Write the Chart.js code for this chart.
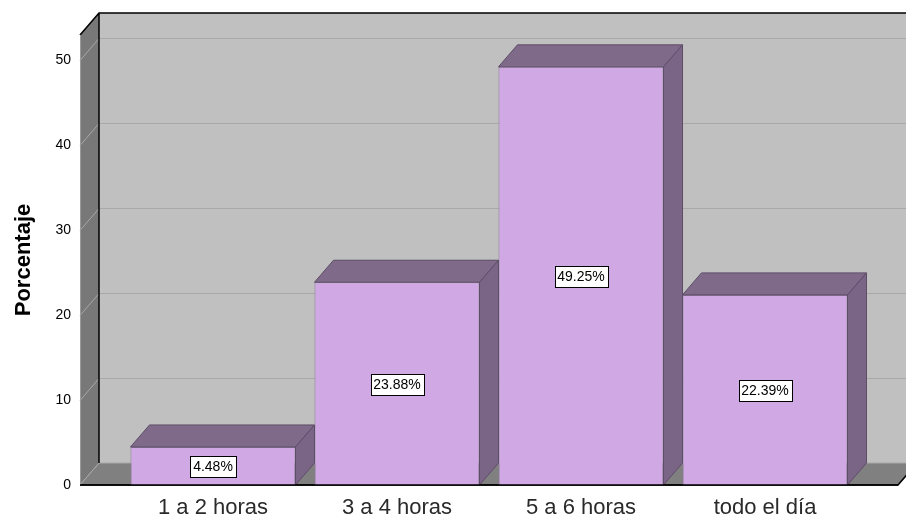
<!DOCTYPE html>
<html>
<head>
<meta charset="utf-8">
<script src="https://cdn.jsdelivr.net/npm/chart.js@4"></script>
<style>
  html, body { margin: 0; padding: 0; background: #ffffff; }
  #wrap { width: 906px; height: 518px; }
</style>
</head>
<body>
<div id="wrap"><canvas id="chart" width="906" height="518"></canvas></div>
<script>
// Chart data
const categories = ['1 a 2 horas', '3 a 4 horas', '5 a 6 horas', 'todo el día'];
const percentages = [4.48, 23.88, 49.25, 22.39];
const percentLabels = ['4.48%', '23.88%', '49.25%', '22.39%'];
const yTicks = [0, 10, 20, 30, 40, 50];

// 3D look
const DEPTH_X = 19;
const DEPTH_Y = -22;
const BOX_PAD = 41;
const FONT = 'Arial, "Liberation Sans", sans-serif';

const threeDPlugin = {
  id: 'threeD',
  beforeDatasetsDraw(chart) {
    const ctx = chart.ctx;
    const y = chart.scales.y;
    const area = chart.chartArea;
    const x0 = area.left - BOX_PAD;
    const x1 = area.right + BOX_PAD;
    const yBot = y.getPixelForValue(0);
    const yTop = area.top;

    ctx.save();
    // back wall
    ctx.fillStyle = '#c0c0c0';
    ctx.fillRect(x0 + DEPTH_X, yTop + DEPTH_Y, x1 - x0, yBot - yTop);
    // left wall
    ctx.fillStyle = '#787878';
    ctx.beginPath();
    ctx.moveTo(x0, yBot);
    ctx.lineTo(x0, yTop);
    ctx.lineTo(x0 + DEPTH_X, yTop + DEPTH_Y);
    ctx.lineTo(x0 + DEPTH_X, yBot + DEPTH_Y);
    ctx.closePath();
    ctx.fill();
    // grid lines
    ctx.strokeStyle = '#a8a8a8';
    ctx.lineWidth = 1;
    yTicks.forEach(v => {
      if (v === 0) return;
      const py = Math.round(y.getPixelForValue(v)) + 0.5;
      ctx.beginPath();
      ctx.moveTo(x0, py);
      ctx.lineTo(x0 + DEPTH_X, py + DEPTH_Y);
      ctx.lineTo(x1 + DEPTH_X, py + DEPTH_Y);
      ctx.stroke();
    });
    // floor
    ctx.fillStyle = '#808080';
    ctx.beginPath();
    ctx.moveTo(x0, yBot);
    ctx.lineTo(x1, yBot);
    ctx.lineTo(x1 + DEPTH_X, yBot + DEPTH_Y);
    ctx.lineTo(x0 + DEPTH_X, yBot + DEPTH_Y);
    ctx.closePath();
    ctx.fill();
    ctx.strokeStyle = '#a8a8a8';
    ctx.beginPath();
    ctx.moveTo(x0, yBot);
    ctx.lineTo(x0 + DEPTH_X, yBot + DEPTH_Y);
    ctx.lineTo(x1 + DEPTH_X, yBot + DEPTH_Y);
    ctx.stroke();
    // outlines
    ctx.strokeStyle = '#000000';
    ctx.lineWidth = 1.5;
    ctx.beginPath();
    ctx.moveTo(x0, yTop);
    ctx.lineTo(x0 + DEPTH_X, yTop + DEPTH_Y);
    ctx.lineTo(x1 + DEPTH_X, yTop + DEPTH_Y);
    ctx.moveTo(x0 + DEPTH_X, yTop + DEPTH_Y);
    ctx.lineTo(x0 + DEPTH_X, yBot + DEPTH_Y);
    ctx.moveTo(x0, yBot);
    ctx.lineTo(x1, yBot);
    ctx.lineTo(x1 + DEPTH_X, yBot + DEPTH_Y);
    ctx.stroke();
    ctx.strokeStyle = '#9a9a9a';
    ctx.lineWidth = 1;
    ctx.beginPath();
    ctx.moveTo(x0 + 0.5, yTop);
    ctx.lineTo(x0 + 0.5, yBot);
    ctx.stroke();
    ctx.restore();
  },
  afterDatasetsDraw(chart) {
    const ctx = chart.ctx;
    const meta = chart.getDatasetMeta(0);
    ctx.save();
    meta.data.forEach((bar, i) => {
      const half = bar.width / 2;
      const l = bar.x - half;
      const r = bar.x + half;
      const t = bar.y;
      const b = bar.base;
      ctx.fillStyle = '#7f6a8a';
      ctx.strokeStyle = '#5e4d68';
      ctx.lineWidth = 1;
      // top face
      ctx.beginPath();
      ctx.moveTo(l, t);
      ctx.lineTo(l + DEPTH_X, t + DEPTH_Y);
      ctx.lineTo(r + DEPTH_X, t + DEPTH_Y);
      ctx.lineTo(r, t);
      ctx.closePath();
      ctx.fill();
      ctx.stroke();
      // side face
      ctx.fillStyle = '#7b6587';
      ctx.beginPath();
      ctx.moveTo(r, t);
      ctx.lineTo(r + DEPTH_X, t + DEPTH_Y);
      ctx.lineTo(r + DEPTH_X, b + DEPTH_Y);
      ctx.lineTo(r, b);
      ctx.closePath();
      ctx.fill();
      ctx.stroke();

      // value label box
      const text = percentLabels[i];
      ctx.font = '14px ' + FONT;
      const w = Math.round(ctx.measureText(text).width + 6);
      const h = 21;
      const cy = Math.round((t + b) / 2);
      const bx = Math.round(bar.x - w / 2) + 0.5;
      const by = Math.round(cy - h / 2) + 0.5;
      ctx.fillStyle = '#ffffff';
      ctx.fillRect(bx, by, w, h);
      ctx.strokeStyle = '#000000';
      ctx.strokeRect(bx, by, w, h);
      ctx.fillStyle = '#000000';
      ctx.textAlign = 'center';
      ctx.textBaseline = 'middle';
      ctx.fillText(text, bar.x, cy + 1);
    });
    // bottom edge over bars
    const area = chart.chartArea;
    const yBot = chart.scales.y.getPixelForValue(0);
    ctx.strokeStyle = '#000000';
    ctx.lineWidth = 1.5;
    ctx.beginPath();
    ctx.moveTo(area.left - BOX_PAD, yBot);
    ctx.lineTo(area.right + BOX_PAD, yBot);
    ctx.stroke();
    ctx.restore();
  }
};

new Chart(document.getElementById('chart'), {
  type: 'bar',
  data: {
    labels: categories,
    datasets: [{
      data: percentages,
      backgroundColor: '#d0a9e4',
      borderColor: '#8c7a98',
      borderWidth: 1,
      barPercentage: 0.897,
      categoryPercentage: 1
    }]
  },
  options: {
    responsive: false,
    animation: false,
    layout: { padding: { top: 35, right: 49, left: 0, bottom: 0 } },
    plugins: {
      legend: { display: false },
      tooltip: { enabled: false }
    },
    scales: {
      x: {
        grid: { display: false, drawTicks: false },
        border: { display: false },
        ticks: {
          padding: 10,
          color: '#2a2a2a',
          font: { family: FONT, size: 22 }
        },
        afterFit(scale) { scale.height = 33; }
      },
      y: {
        min: 0,
        max: 53,
        grid: { display: false, drawTicks: false },
        border: { display: false },
        ticks: {
          stepSize: 10,
          padding: 50,
          color: '#000000',
          font: { family: FONT, size: 14 },
          callback: v => (yTicks.includes(v) ? v : '')
        },
        title: {
          display: true,
          text: 'Porcentaje',
          color: '#000000',
          padding: { top: 11, bottom: 0 },
          font: { family: FONT, size: 22, weight: 'bold' }
        },
        afterFit(scale) {
          scale.width = 121;
          scale.paddingTop = 0;
          scale.paddingBottom = 0;
        }
      }
    }
  },
  plugins: [threeDPlugin]
});
</script>
</body>
</html>
